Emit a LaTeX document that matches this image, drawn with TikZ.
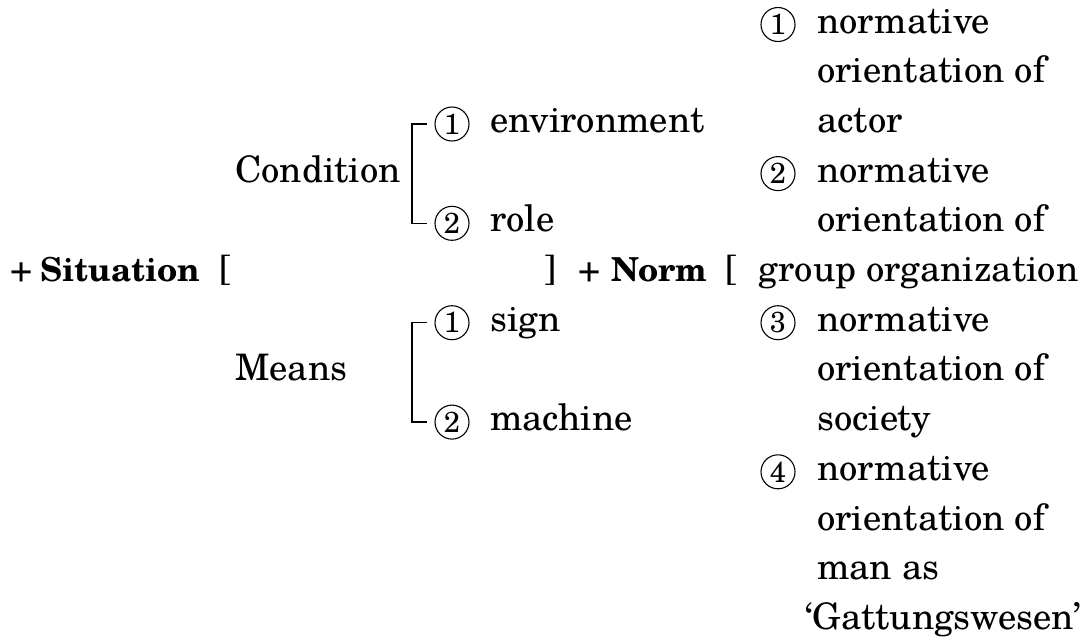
\documentclass[tikz,border=0pt]{standalone}
\usepackage{fontspec}
\setmainfont{texgyreschola}[Extension=.otf,UprightFont=*-regular,BoldFont=*-bold,ItalicFont=*-italic,BoldItalicFont=*-bolditalic]

\begin{document}
\begin{tikzpicture}[x=1pt,y=-1pt,
    every node/.style={inner sep=0pt,font=\fontsize{36.5}{44}\selectfont},
    txt/.style={anchor=base west},
    head/.style={anchor=base west,font=\fontsize{33}{40}\selectfont\bfseries},
    num/.style={circle,draw,line width=1.1pt,minimum size=34pt,font=\fontsize{29}{29}\selectfont},
    brak/.style={line width=1.3pt,shorten <=7pt,shorten >=7pt}]
  \useasboundingbox (0,0) rectangle (1091,641);
  % main line
  \draw
    (10,281.5) node[txt] (plus1) {+}
    (40,281.5) node[head] (sit) {Situation}
    (219,281.5) node[txt] (sitl) {[}
    (544,281.5) node[txt] (sitr) {]}
    (578,281.5) node[txt] (plus2) {+}
    (611,281.5) node[head] (norm) {Norm}
    (725,281.5) node[txt] (norml) {[};
  % condition and means
  \draw
    (235,182.1) node[txt] (cond) {Condition}
    (235,380.9) node[txt] (means) {Means}
    (452,124) node[num] (c1) {1}
    (490,132.4) node[txt] (env) {environment}
    (452,223.3) node[num] (c2) {2}
    (490,231.8) node[txt] (role) {role}
    (452,322.7) node[num] (m1) {1}
    (490,331.2) node[txt] (sign) {sign}
    (452,422.1) node[num] (m2) {2}
    (490,430.6) node[txt] (mach) {machine};
  \coordinate (cx) at (412,0);
  \begin{scope}[brak]
    \draw (c1.west) -- (cx |- c1.west) -- (cx |- c2.west) -- (c2.west);
    \draw (m1.west) -- (cx |- m1.west) -- (cx |- m2.west) -- (m2.west);
  \end{scope}
  % norm list
  \draw
    (778,24.5) node[num] (n1) {1}
    (817,33) node[txt] (r1) {normative}
    (817,82.7) node[txt] (r2) {orientation of}
    (817,132.4) node[txt] (r3) {actor}
    (778,173.6) node[num] (n2) {2}
    (817,182.1) node[txt] (r4) {normative}
    (817,231.8) node[txt] (r5) {orientation of}
    (758,281.5) node[txt] (r6) {group organization}
    (778,322.7) node[num] (n3) {3}
    (817,331.2) node[txt] (r7) {normative}
    (817,380.9) node[txt] (r8) {orientation of}
    (817,430.6) node[txt] (r9) {society}
    (778,471.8) node[num] (n4) {4}
    (817,480.3) node[txt] (r10) {normative}
    (817,530) node[txt] (r11) {orientation of}
    (817,579.7) node[txt] (r12) {man as}
    (805,629.4) node[txt] (r13) {`Gattungswesen'};
\end{tikzpicture}
\end{document}
